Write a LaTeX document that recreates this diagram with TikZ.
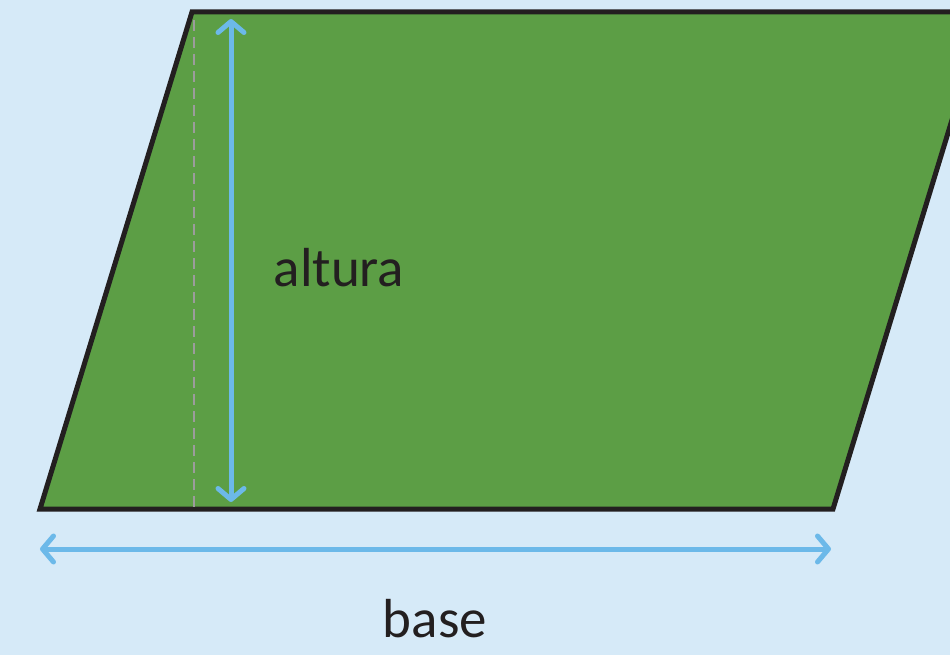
\documentclass[tikz,border=0pt]{standalone}
\usepackage{fontspec}
\setmainfont{Carlito}
\usetikzlibrary{arrows.meta}
\definecolor{bgblue}{HTML}{D6EAF8}
\definecolor{shapegreen}{HTML}{5C9E45}
\definecolor{outline}{HTML}{231F20}
\definecolor{arrowblue}{HTML}{6CB9E9}
\definecolor{dashgray}{HTML}{9C9C9C}
\tikzset{
  measure/.style={draw=arrowblue, line width=5pt, line cap=round,
    {Straight Barb[length=11pt,width=26pt,round]}-{Straight Barb[length=11pt,width=26pt,round]}},
  label text/.style={font=\fontsize{55}{60}\selectfont, text=outline, inner sep=0pt, anchor=base},
  guide/.style={draw=dashgray, line width=2.6pt, dash pattern=on 11pt off 6pt}
}
\begin{document}
\begin{tikzpicture}[x=1pt,y=-1pt]
\useasboundingbox (0,0) rectangle (950,655);
\fill[bgblue] (0,0) rectangle (950,655);
\begin{scope}
\clip (0,0) rectangle (950,655);
\coordinate (bl) at (40,509);
\coordinate (tl) at (192,12);
\coordinate (tr) at (985,12);
\coordinate (br) at (833,509);
\filldraw[fill=shapegreen, draw=outline, line width=5pt, line join=miter] (bl) -- (tl) -- (tr) -- (br) -- cycle;
\end{scope}
\coordinate (dtop) at (194,20);
\coordinate (dbot) at (194,507);
\draw[guide] (dtop) -- (dbot);
\coordinate (htop) at (231,19);
\coordinate (hbot) at (231,502);
\draw[measure] (htop) -- (hbot);
\coordinate (bleft) at (40,549);
\coordinate (bright) at (831,549);
\draw[measure] (bleft) -- (bright);
\node[label text] (altura) at (339,286) {altura};
\node[label text] (base) at (435,637) {base};
\end{tikzpicture}
\end{document}
